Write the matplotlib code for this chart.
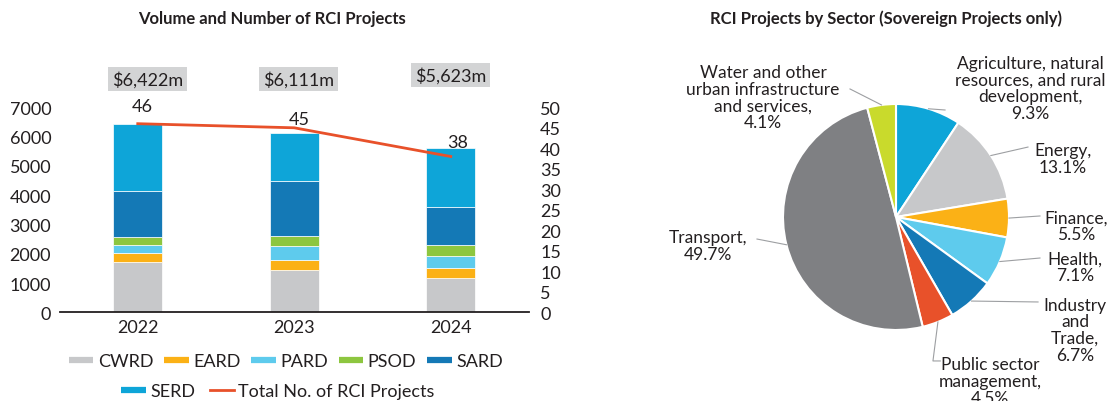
import numpy as np
import matplotlib.pyplot as plt
from matplotlib.lines import Line2D

plt.rcParams['font.family'] = ['Lato', 'DejaVu Sans']
plt.rcParams['text.color'] = '#231f20'
plt.rcParams['xtick.color'] = '#231f20'
plt.rcParams['ytick.color'] = '#231f20'

# Volume by department (US$ million) and number of projects
years = ['2022', '2023', '2024']
cwrd = [1722, 1438, 1160]
eard = [298, 353, 352]
pard = [274, 469, 420]
psod = [294, 329, 365]
sard = [1554, 1884, 1287]
serd = [2280, 1638, 2039]
totals = [6422, 6111, 5623]
n_projects = [46, 45, 38]

# Sovereign projects by sector (%)
sectors = ['Agriculture, natural\nresources, and rural\ndevelopment,',
           'Energy,', 'Finance,', 'Health,', 'Industry\nand\nTrade,',
           'Public sector\nmanagement,', 'Transport,',
           'Water and other\nurban infrastructure\nand services,']
shares = [9.3, 13.1, 5.5, 7.1, 6.7, 4.5, 49.7, 4.1]

dept_names = ['CWRD', 'EARD', 'PARD', 'PSOD', 'SARD', 'SERD']
dept_colors = ['#c7c8ca', '#fbb116', '#5ecbed', '#8dc63f', '#1479b6', '#0ea5d8']
line_color = '#e8512a'
sector_colors = ['#0ea5d8', '#c7c8ca', '#fbb116', '#5ecbed', '#1479b6',
                 '#e8512a', '#7f8083', '#c9da2c']

W, H = 1114, 402
fig = plt.figure(figsize=(W / 100, H / 100), dpi=100)

# ---- left: stacked bars + project count line
ax = fig.add_axes([59.5 / W, 88.7 / H, 469.5 / W, 205 / H])
x = np.arange(len(years))
bottom = np.zeros(len(years))
for vals, col in zip([cwrd, eard, pard, psod, sard, serd], dept_colors):
    ax.bar(x, vals, 0.313, bottom=bottom, color=col, edgecolor='white', linewidth=0.5)
    bottom += np.array(vals)

ax.set_xlim(-0.5, 2.5)
ax.set_ylim(0, 7000)
ax.set_yticks(np.arange(0, 7001, 1000))
ax.set_xticks(x, years)
ax.tick_params(axis='both', length=0, labelsize=13)
ax.tick_params(axis='y', pad=6)
ax.tick_params(axis='x', pad=5)
for s in ['left', 'right', 'top']:
    ax.spines[s].set_visible(False)
ax.spines['bottom'].set_linewidth(1.3)
ax.spines['bottom'].set_color('#231f20')

# volume boxes above each bar
box_dx = [0.06, 0.03, 0.0]
box_y = [1.138, 1.138, 1.158]
for i, t in enumerate(totals):
    ax.text(i + box_dx[i], box_y[i], f'${t:,}m', transform=ax.get_xaxis_transform(),
            ha='center', va='center', fontsize=13,
            bbox=dict(boxstyle='square,pad=0.22', fc='#d3d4d5', ec='none'))

ax2 = ax.twinx()
ax2.plot(x, n_projects, color=line_color, lw=2)
ax2.set_ylim(0, 50)
ax2.set_yticks(np.arange(0, 51, 5))
ax2.tick_params(axis='y', length=0, labelsize=13, pad=8)
for s in ['left', 'right', 'top', 'bottom']:
    ax2.spines[s].set_visible(False)

label_off = [(4, 18), (5, 9), (7, 15)]
for i, n in enumerate(n_projects):
    ax2.annotate(str(n), (i, n), xytext=label_off[i], textcoords='offset pixels',
                 ha='center', va='center', fontsize=13)

fig.text(272 / W, 1 - 19 / H, 'Volume and Number of RCI Projects',
         ha='center', va='center', fontsize=12, fontweight='bold')

def patch_handle(c):
    return Line2D([0], [0], color=c, lw=4.5, solid_capstyle='butt')

row1 = [patch_handle(c) for c in dept_colors[:5]]
leg1 = fig.legend(row1, dept_names[:5], loc='center', ncol=5, frameon=False,
                  bbox_to_anchor=(286 / W, 1 - 362 / H), fontsize=13,
                  handlelength=1.35, handletextpad=0.25, columnspacing=0.6,
                  borderpad=0, borderaxespad=0)
row2 = [patch_handle(dept_colors[5]), Line2D([0], [0], color=line_color, lw=2)]
fig.legend(row2, ['SERD', 'Total No. of RCI Projects'], loc='center', ncol=2,
           frameon=False, bbox_to_anchor=(278 / W, 1 - 392 / H), fontsize=13,
           handlelength=1.35, handletextpad=0.25, columnspacing=0.8,
           borderpad=0, borderaxespad=0)

# ---- right: sector pie
cx, cy, r = 896, 218, 113
pax = fig.add_axes([600 / W, 0, 514 / W, 1])
wedges, _ = pax.pie(shares, colors=sector_colors, startangle=90, counterclock=False,
                    wedgeprops=dict(edgecolor='white', linewidth=1.5))
pax.set_aspect('auto')
pax.set_xlim((600 - cx) / r, (W - cx) / r)
pax.set_ylim((cy - H) / r, cy / r)
pax.axis('off')

# label centres and leader line end points (data units of the pie axes)
text_xy = [(1.186, 1.144), (1.478, 0.518), (1.593, -0.080), (1.584, -0.438),
           (1.584, -0.996), (0.832, -1.451), (-1.664, -0.252), (-1.177, 1.058)]
leader_end = [[(0.434, 0.947)], [(1.168, 0.619)], [(1.274, 0.009)], [(1.274, -0.363)],
              [(1.257, -0.752)], [(0.327, -1.274), (0.392, -1.274)],
              [(-1.230, -0.195)], [(-0.407, 1.133)]]

for w, name, pct, (tx, ty), ends in zip(wedges, sectors, shares, text_xy, leader_end):
    ang = np.deg2rad((w.theta1 + w.theta2) / 2)
    pts = [(np.cos(ang) * 1.0, np.sin(ang) * 1.0)] + ends
    px, py = zip(*pts)
    pax.plot(px, py, color='#9d9fa2', lw=0.8, clip_on=False)
    pax.text(tx, ty, f'{name}\n{pct}%', ha='center', va='center', fontsize=12.5,
             linespacing=1.05, clip_on=False)

fig.text(886 / W, 1 - 19 / H, 'RCI Projects by Sector (Sovereign Projects only)',
         ha='center', va='center', fontsize=12, fontweight='bold')

fig.savefig('out.png', dpi=100)
